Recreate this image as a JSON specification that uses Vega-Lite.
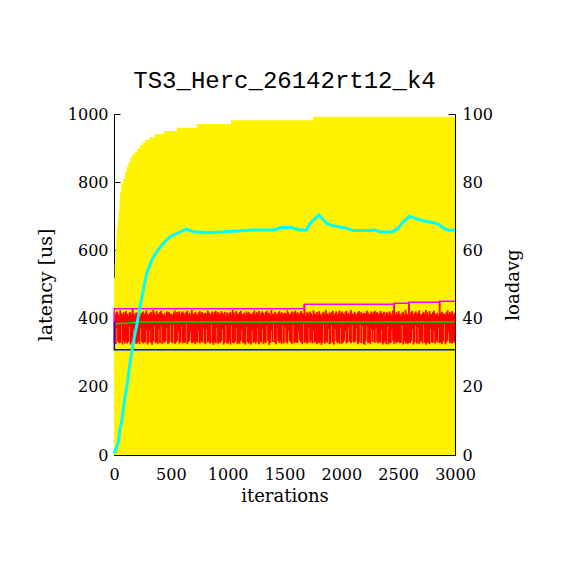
{
  "$schema": "https://vega.github.io/schema/vega-lite/v6.json",
  "width": 341,
  "height": 341,
  "autosize": {"type": "none"},
  "padding": {"left": 114, "top": 114, "right": 115, "bottom": 115},
  "background": "white",
  "title": {"text": "TS3_Herc_26142rt12_k4", "font": "Liberation Mono", "fontSize": 24, "fontWeight": "normal", "color": "black", "anchor": "middle", "frame": "group", "baseline": "alphabetic", "offset": -6},
  "datasets": {
    "envelope": [
      {"i":0,"v":520},{"i":6,"v":560},{"i":12,"v":600},{"i":18,"v":635},{"i":25,"v":665},{"i":32,"v":690},{"i":40,"v":715},{"i":47,"v":745},{"i":53,"v":772},{"i":64,"v":797},{"i":82,"v":811},{"i":97,"v":830},{"i":112,"v":845},{"i":126,"v":858},{"i":141,"v":870},{"i":155,"v":878},{"i":170,"v":885},{"i":185,"v":889},{"i":205,"v":899},{"i":229,"v":909},{"i":252,"v":916},{"i":273,"v":924},{"i":311,"v":932},{"i":361,"v":941},{"i":440,"v":950},{"i":552,"v":960},{"i":727,"v":971},{"i":1029,"v":982},{"i":1753,"v":992},{"i":3000,"v":992}
    ],
    "lat": [
      {"i":5,"lo":330,"hi":418},{"i":15,"lo":326,"hi":412},{"i":25,"lo":371,"hi":421},{"i":35,"lo":333,"hi":415},{"i":45,"lo":328,"hi":409},{"i":55,"lo":329,"hi":424},{"i":65,"lo":380,"hi":416},{"i":75,"lo":324,"hi":411},{"i":85,"lo":335,"hi":419},{"i":95,"lo":327,"hi":413},
      {"i":105,"lo":333,"hi":422},{"i":115,"lo":327,"hi":414},{"i":125,"lo":331,"hi":408},{"i":135,"lo":376,"hi":417},{"i":145,"lo":324,"hi":420},{"i":155,"lo":330,"hi":412},{"i":165,"lo":328,"hi":429},{"i":175,"lo":367,"hi":415},{"i":185,"lo":335,"hi":410},{"i":195,"lo":326,"hi":418},
      {"i":205,"lo":329,"hi":413},{"i":215,"lo":334,"hi":419},{"i":225,"lo":325,"hi":423},{"i":235,"lo":372,"hi":409},{"i":245,"lo":331,"hi":416},{"i":255,"lo":327,"hi":421},{"i":265,"lo":333,"hi":411},{"i":275,"lo":329,"hi":417},{"i":285,"lo":366,"hi":424},{"i":295,"lo":324,"hi":414},
      {"i":305,"lo":331,"hi":410},{"i":315,"lo":365,"hi":416},{"i":325,"lo":329,"hi":420},{"i":335,"lo":323,"hi":413},{"i":345,"lo":334,"hi":425},{"i":355,"lo":377,"hi":418},{"i":365,"lo":328,"hi":409},{"i":375,"lo":332,"hi":422},{"i":385,"lo":326,"hi":415},{"i":395,"lo":369,"hi":412},
      {"i":405,"lo":328,"hi":419},{"i":415,"lo":378,"hi":423},{"i":425,"lo":326,"hi":414},{"i":435,"lo":332,"hi":411},{"i":445,"lo":329,"hi":417},{"i":455,"lo":334,"hi":408},{"i":465,"lo":371,"hi":421},{"i":475,"lo":325,"hi":416},{"i":485,"lo":330,"hi":420},{"i":495,"lo":383,"hi":413},
      {"i":505,"lo":332,"hi":415},{"i":515,"lo":328,"hi":410},{"i":525,"lo":381,"hi":418},{"i":535,"lo":326,"hi":424},{"i":545,"lo":330,"hi":412},{"i":555,"lo":335,"hi":419},{"i":565,"lo":363,"hi":414},{"i":575,"lo":327,"hi":422},{"i":585,"lo":331,"hi":409},{"i":595,"lo":375,"hi":417},
      {"i":605,"lo":327,"hi":421},{"i":615,"lo":333,"hi":416},{"i":625,"lo":329,"hi":411},{"i":635,"lo":384,"hi":419},{"i":645,"lo":325,"hi":423},{"i":655,"lo":331,"hi":413},{"i":665,"lo":336,"hi":417},{"i":675,"lo":362,"hi":410},{"i":685,"lo":328,"hi":425},{"i":695,"lo":330,"hi":415},
      {"i":705,"lo":331,"hi":412},{"i":715,"lo":325,"hi":420},{"i":725,"lo":333,"hi":415},{"i":735,"lo":329,"hi":409},{"i":745,"lo":364,"hi":418},{"i":755,"lo":327,"hi":422},{"i":765,"lo":336,"hi":414},{"i":775,"lo":330,"hi":419},{"i":785,"lo":373,"hi":411},{"i":795,"lo":328,"hi":416},
      {"i":805,"lo":325,"hi":417},{"i":815,"lo":369,"hi":413},{"i":825,"lo":330,"hi":424},{"i":835,"lo":334,"hi":418},{"i":845,"lo":327,"hi":410},{"i":855,"lo":382,"hi":415},{"i":865,"lo":329,"hi":421},{"i":875,"lo":323,"hi":412},{"i":885,"lo":332,"hi":419},{"i":895,"lo":328,"hi":423},
      {"i":905,"lo":374,"hi":414},{"i":915,"lo":326,"hi":419},{"i":925,"lo":332,"hi":410},{"i":935,"lo":328,"hi":416},{"i":945,"lo":335,"hi":422},{"i":955,"lo":368,"hi":417},{"i":965,"lo":324,"hi":413},{"i":975,"lo":330,"hi":420},{"i":985,"lo":379,"hi":408},{"i":995,"lo":327,"hi":418},
      {"i":1005,"lo":327,"hi":410},{"i":1015,"lo":335,"hi":416},{"i":1025,"lo":324,"hi":420},{"i":1035,"lo":380,"hi":413},{"i":1045,"lo":329,"hi":425},{"i":1055,"lo":328,"hi":418},{"i":1065,"lo":333,"hi":409},{"i":1075,"lo":371,"hi":422},{"i":1085,"lo":326,"hi":415},{"i":1095,"lo":330,"hi":412},
      {"i":1105,"lo":326,"hi":419},{"i":1115,"lo":335,"hi":423},{"i":1125,"lo":367,"hi":414},{"i":1135,"lo":328,"hi":411},{"i":1145,"lo":330,"hi":417},{"i":1155,"lo":324,"hi":408},{"i":1165,"lo":376,"hi":421},{"i":1175,"lo":331,"hi":416},{"i":1185,"lo":327,"hi":420},{"i":1195,"lo":333,"hi":413},
      {"i":1205,"lo":324,"hi":415},{"i":1215,"lo":366,"hi":410},{"i":1225,"lo":329,"hi":418},{"i":1235,"lo":333,"hi":424},{"i":1245,"lo":327,"hi":412},{"i":1255,"lo":331,"hi":419},{"i":1265,"lo":372,"hi":414},{"i":1275,"lo":325,"hi":422},{"i":1285,"lo":334,"hi":409},{"i":1295,"lo":329,"hi":417},
      {"i":1305,"lo":369,"hi":421},{"i":1315,"lo":326,"hi":416},{"i":1325,"lo":332,"hi":411},{"i":1335,"lo":328,"hi":419},{"i":1345,"lo":377,"hi":423},{"i":1355,"lo":334,"hi":413},{"i":1365,"lo":323,"hi":417},{"i":1375,"lo":329,"hi":410},{"i":1385,"lo":365,"hi":425},{"i":1395,"lo":331,"hi":415},
      {"i":1405,"lo":383,"hi":412},{"i":1415,"lo":330,"hi":420},{"i":1425,"lo":325,"hi":415},{"i":1435,"lo":371,"hi":409},{"i":1445,"lo":334,"hi":418},{"i":1455,"lo":329,"hi":422},{"i":1465,"lo":332,"hi":414},{"i":1475,"lo":326,"hi":419},{"i":1485,"lo":378,"hi":411},{"i":1495,"lo":328,"hi":416},
      {"i":1505,"lo":375,"hi":417},{"i":1515,"lo":331,"hi":413},{"i":1525,"lo":327,"hi":424},{"i":1535,"lo":363,"hi":418},{"i":1545,"lo":335,"hi":410},{"i":1555,"lo":330,"hi":415},{"i":1565,"lo":326,"hi":421},{"i":1575,"lo":381,"hi":412},{"i":1585,"lo":328,"hi":419},{"i":1595,"lo":332,"hi":423},
      {"i":1605,"lo":330,"hi":414},{"i":1615,"lo":328,"hi":419},{"i":1625,"lo":362,"hi":410},{"i":1635,"lo":336,"hi":416},{"i":1645,"lo":331,"hi":422},{"i":1655,"lo":325,"hi":417},{"i":1665,"lo":384,"hi":413},{"i":1675,"lo":329,"hi":442},{"i":1685,"lo":333,"hi":408},{"i":1695,"lo":327,"hi":418},
      {"i":1705,"lo":328,"hi":418},{"i":1715,"lo":373,"hi":412},{"i":1725,"lo":330,"hi":421},{"i":1735,"lo":336,"hi":415},{"i":1745,"lo":327,"hi":409},{"i":1755,"lo":364,"hi":424},{"i":1765,"lo":329,"hi":416},{"i":1775,"lo":333,"hi":411},{"i":1785,"lo":325,"hi":419},{"i":1795,"lo":331,"hi":413},
      {"i":1805,"lo":328,"hi":422},{"i":1815,"lo":332,"hi":414},{"i":1825,"lo":323,"hi":408},{"i":1835,"lo":329,"hi":417},{"i":1845,"lo":382,"hi":420},{"i":1855,"lo":327,"hi":412},{"i":1865,"lo":334,"hi":426},{"i":1875,"lo":330,"hi":415},{"i":1885,"lo":369,"hi":410},{"i":1895,"lo":325,"hi":418},
      {"i":1905,"lo":327,"hi":413},{"i":1915,"lo":379,"hi":419},{"i":1925,"lo":330,"hi":423},{"i":1935,"lo":324,"hi":409},{"i":1945,"lo":368,"hi":416},{"i":1955,"lo":335,"hi":421},{"i":1965,"lo":328,"hi":411},{"i":1975,"lo":332,"hi":417},{"i":1985,"lo":326,"hi":424},{"i":1995,"lo":374,"hi":414},
      {"i":2005,"lo":326,"hi":421},{"i":2015,"lo":330,"hi":416},{"i":2025,"lo":335,"hi":411},{"i":2035,"lo":363,"hi":419},{"i":2045,"lo":327,"hi":423},{"i":2055,"lo":331,"hi":413},{"i":2065,"lo":375,"hi":417},{"i":2075,"lo":332,"hi":410},{"i":2085,"lo":328,"hi":425},{"i":2095,"lo":381,"hi":415},
      {"i":2105,"lo":332,"hi":412},{"i":2115,"lo":329,"hi":420},{"i":2125,"lo":334,"hi":415},{"i":2135,"lo":371,"hi":409},{"i":2145,"lo":325,"hi":418},{"i":2155,"lo":330,"hi":422},{"i":2165,"lo":383,"hi":414},{"i":2175,"lo":328,"hi":419},{"i":2185,"lo":378,"hi":411},{"i":2195,"lo":326,"hi":416},
      {"i":2205,"lo":323,"hi":417},{"i":2215,"lo":334,"hi":413},{"i":2225,"lo":377,"hi":424},{"i":2235,"lo":328,"hi":418},{"i":2245,"lo":332,"hi":410},{"i":2255,"lo":326,"hi":415},{"i":2265,"lo":369,"hi":421},{"i":2275,"lo":331,"hi":412},{"i":2285,"lo":365,"hi":419},{"i":2295,"lo":329,"hi":423},
      {"i":2305,"lo":372,"hi":414},{"i":2315,"lo":331,"hi":419},{"i":2325,"lo":327,"hi":410},{"i":2335,"lo":333,"hi":416},{"i":2345,"lo":329,"hi":422},{"i":2355,"lo":366,"hi":417},{"i":2365,"lo":324,"hi":413},{"i":2375,"lo":329,"hi":420},{"i":2385,"lo":334,"hi":408},{"i":2395,"lo":325,"hi":418},
      {"i":2405,"lo":376,"hi":418},{"i":2415,"lo":324,"hi":412},{"i":2425,"lo":330,"hi":421},{"i":2435,"lo":328,"hi":415},{"i":2445,"lo":367,"hi":409},{"i":2455,"lo":335,"hi":424},{"i":2465,"lo":326,"hi":445},{"i":2475,"lo":333,"hi":411},{"i":2485,"lo":327,"hi":419},{"i":2495,"lo":331,"hi":413},
      {"i":2505,"lo":333,"hi":422},{"i":2515,"lo":328,"hi":414},{"i":2525,"lo":329,"hi":408},{"i":2535,"lo":380,"hi":417},{"i":2545,"lo":324,"hi":420},{"i":2555,"lo":335,"hi":412},{"i":2565,"lo":327,"hi":426},{"i":2575,"lo":330,"hi":415},{"i":2585,"lo":326,"hi":410},{"i":2595,"lo":330,"hi":448},
      {"i":2605,"lo":328,"hi":413},{"i":2615,"lo":335,"hi":419},{"i":2625,"lo":368,"hi":423},{"i":2635,"lo":324,"hi":409},{"i":2645,"lo":330,"hi":416},{"i":2655,"lo":379,"hi":421},{"i":2665,"lo":327,"hi":411},{"i":2675,"lo":374,"hi":417},{"i":2685,"lo":326,"hi":424},{"i":2695,"lo":332,"hi":414},
      {"i":2705,"lo":334,"hi":410},{"i":2715,"lo":327,"hi":416},{"i":2725,"lo":382,"hi":420},{"i":2735,"lo":329,"hi":413},{"i":2745,"lo":323,"hi":425},{"i":2755,"lo":332,"hi":418},{"i":2765,"lo":328,"hi":409},{"i":2775,"lo":325,"hi":422},{"i":2785,"lo":369,"hi":415},{"i":2795,"lo":330,"hi":412},
      {"i":2805,"lo":329,"hi":419},{"i":2815,"lo":364,"hi":423},{"i":2825,"lo":327,"hi":414},{"i":2835,"lo":336,"hi":411},{"i":2845,"lo":330,"hi":417},{"i":2855,"lo":373,"hi":408},{"i":2865,"lo":328,"hi":451},{"i":2875,"lo":331,"hi":416},{"i":2885,"lo":325,"hi":420},{"i":2895,"lo":333,"hi":413},
      {"i":2905,"lo":384,"hi":415},{"i":2915,"lo":325,"hi":410},{"i":2925,"lo":331,"hi":418},{"i":2935,"lo":336,"hi":424},{"i":2945,"lo":362,"hi":412},{"i":2955,"lo":328,"hi":419},{"i":2965,"lo":330,"hi":414},{"i":2975,"lo":327,"hi":422},{"i":2985,"lo":333,"hi":409},{"i":2995,"lo":329,"hi":417}
    ],
    "avg": [{"i":0,"v":383},{"i":20,"v":385},{"i":130,"v":387},{"i":217,"v":390},{"i":3000,"v":390}],
    "max": [{"i":0,"v":386},{"i":3,"v":429},{"i":1675,"v":442},{"i":2465,"v":445},{"i":2595,"v":448},{"i":2865,"v":451},{"i":3000,"v":451}],
    "min": [{"i":0,"v":389},{"i":3,"v":308.5},{"i":3000,"v":308.5}],
    "load": [
      {"i":0,"v":0.5},{"i":20,"v":2},{"i":40,"v":4},{"i":53,"v":8},{"i":64,"v":9},{"i":79,"v":13},{"i":97,"v":17},{"i":117,"v":21},{"i":141,"v":27},{"i":170,"v":33},{"i":200,"v":38},{"i":229,"v":43.5},{"i":258,"v":48.4},{"i":288,"v":53.3},{"i":332,"v":57.2},{"i":375,"v":59.6},{"i":434,"v":62.1},{"i":493,"v":64},{"i":552,"v":65},{"i":625,"v":66},{"i":640,"v":66.2},{"i":698,"v":65.5},{"i":830,"v":65.2},{"i":977,"v":65.5},{"i":1226,"v":66},{"i":1402,"v":66},{"i":1475,"v":66.7},{"i":1563,"v":66.7},{"i":1636,"v":66},{"i":1695,"v":66},{"i":1724,"v":67.9},{"i":1803,"v":70.4},{"i":1871,"v":67.9},{"i":1930,"v":67.2},{"i":2047,"v":66.5},{"i":2106,"v":65.8},{"i":2252,"v":65.8},{"i":2296,"v":66},{"i":2340,"v":65.4},{"i":2443,"v":65.4},{"i":2501,"v":66.5},{"i":2531,"v":67.9},{"i":2598,"v":70},{"i":2648,"v":69.4},{"i":2721,"v":68.7},{"i":2809,"v":68.1},{"i":2853,"v":67.7},{"i":2897,"v":66.5},{"i":2941,"v":65.9},{"i":3000,"v":65.9}
    ]
  },
  "layer": [
    {
      "layer": [
        {
          "data": {"name": "envelope"},
          "mark": {"type": "area", "interpolate": "step-after", "color": "#fff300"},
          "encoding": {
            "x": {"field": "i", "type": "quantitative", "title": "iterations", "scale": {"domain": [0, 3000], "nice": false},
              "axis": {"values": [0, 500, 1000, 1500, 2000, 2500, 3000], "format": "d", "tickSize": -6, "labelPadding": 17, "labelFlush": false, "labelOverlap": false, "titlePadding": 5, "titleFontSize": 18}},
            "y": {"field": "v", "type": "quantitative", "title": "latency [us]", "scale": {"domain": [0, 1000], "nice": false},
              "axis": {"values": [0, 100, 200, 300, 400, 500, 600, 700, 800, 900, 1000], "format": "d",
                "labelExpr": "datum.value % 200 === 0 ? datum.label : ''",
                "tickSize": {"condition": {"test": "datum.value % 200 === 0", "value": -6}, "value": -3},
                "labelPadding": 12, "labelOverlap": false, "labelFlush": false, "titlePadding": 12, "titleFontSize": 19}}
          }
        },
        {
          "data": {"name": "lat"},
          "mark": {"type": "rule", "color": "#ff0000", "strokeWidth": 1.8},
          "encoding": {
            "x": {"field": "i", "type": "quantitative", "title": "iterations"},
            "y": {"field": "lo", "type": "quantitative", "title": "latency [us]"},
            "y2": {"field": "hi"}
          }
        },
        {
          "data": {"name": "avg"},
          "mark": {"type": "line", "color": "#00dd00", "strokeWidth": 1.5},
          "encoding": {
            "x": {"field": "i", "type": "quantitative", "title": "iterations"},
            "y": {"field": "v", "type": "quantitative", "title": "latency [us]"}
          }
        },
        {
          "data": {"name": "max"},
          "mark": {"type": "line", "interpolate": "step-after", "color": "#ff00ff", "strokeWidth": 1.5},
          "encoding": {
            "x": {"field": "i", "type": "quantitative", "title": "iterations"},
            "y": {"field": "v", "type": "quantitative", "title": "latency [us]"}
          }
        },
        {
          "data": {"name": "min"},
          "mark": {"type": "line", "interpolate": "step-after", "color": "#0000ff", "strokeWidth": 1.5},
          "encoding": {
            "x": {"field": "i", "type": "quantitative", "title": "iterations"},
            "y": {"field": "v", "type": "quantitative", "title": "latency [us]"}
          }
        }
      ]
    },
    {
      "data": {"name": "load"},
      "mark": {"type": "line", "color": "#00ffff", "strokeWidth": 3},
      "encoding": {
        "x": {"field": "i", "type": "quantitative", "title": "iterations"},
        "y": {"field": "v", "type": "quantitative", "title": "loadavg", "scale": {"domain": [0, 100], "nice": false},
          "axis": {"orient": "right", "values": [0, 10, 20, 30, 40, 50, 60, 70, 80, 90, 100], "format": "d",
            "labelExpr": "datum.value % 20 === 0 ? datum.label : ''",
            "tickSize": {"condition": {"test": "datum.value % 20 === 0", "value": -7}, "value": -3},
            "labelPadding": 14, "labelOverlap": false, "labelFlush": false, "titleAngle": 270, "titlePadding": 30, "titleFontSize": 18}}
      }
    }
  ],
  "resolve": {"scale": {"y": "independent"}},
  "config": {
    "view": {"stroke": null},
    "axis": {"grid": false, "domainColor": "black", "tickColor": "black", "domainWidth": 1, "tickWidth": 1,
      "labelFont": "DejaVu Serif", "labelFontSize": 16, "labelColor": "black",
      "titleFont": "DejaVu Serif", "titleFontSize": 17, "titleFontWeight": "normal", "titleColor": "black"}
  }
}
